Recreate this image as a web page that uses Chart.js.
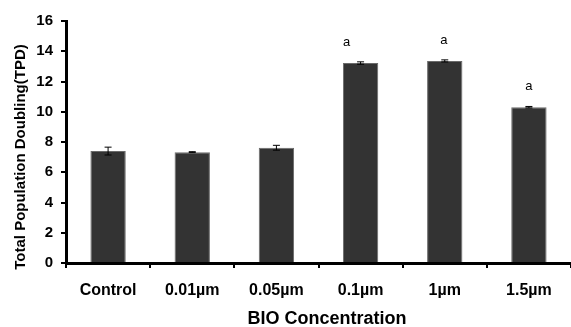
<!DOCTYPE html>
<html><head><meta charset="utf-8">
<script src="https://cdn.jsdelivr.net/npm/chart.js@4"></script>
<style>html,body{margin:0;padding:0;background:#fff}#w{width:571px;height:327px}</style>
</head><body><div id="w"><canvas id="c"></canvas></div>
<script>
const categories = ["Control", "0.01\u00b5m", "0.05\u00b5m", "0.1\u00b5m", "1\u00b5m", "1.5\u00b5m"];
const values = [7.4, 7.33, 7.62, 13.22, 13.36, 10.3];
const errors = [0.26, 0.03, 0.16, 0.08, 0.07, 0.05];
const sigLabels = ["", "", "", "a", "a", "a"];
const yTicks = [0, 2, 4, 6, 8, 10, 12, 14, 16];
const xTitle = "BIO Concentration";
const yTitle = "Total Population Doubling(TPD)";

const FONT = "'Liberation Sans', Arial, sans-serif";
const sigDx = [0, 0, 0, -14, -1, 0];

const extras = {
  id: 'extras',
  afterDatasetsDraw(chart) {
    const ctx = chart.ctx, x = chart.scales.x, y = chart.scales.y;
    ctx.save();
    ctx.strokeStyle = '#000'; ctx.lineWidth = 1;
    values.forEach((v, i) => {
      const cx = x.getPixelForValue(i);
      const y1 = y.getPixelForValue(v + errors[i]);
      const y2 = y.getPixelForValue(v - errors[i]);
      ctx.beginPath();
      ctx.moveTo(cx, y1); ctx.lineTo(cx, y2);
      ctx.moveTo(cx - 3.5, y1); ctx.lineTo(cx + 3.5, y1);
      ctx.moveTo(cx - 3.5, y2); ctx.lineTo(cx + 3.5, y2);
      ctx.stroke();
      if (sigLabels[i]) {
        ctx.fillStyle = '#000';
        ctx.font = "13px " + FONT;
        ctx.textAlign = 'center'; ctx.textBaseline = 'middle';
        ctx.fillText(sigLabels[i], cx + sigDx[i], y.getPixelForValue(v) - 21);
      }
    });
    ctx.fillStyle = '#000';
    ctx.font = "bold 18px " + FONT;
    ctx.textAlign = 'center'; ctx.textBaseline = 'middle';
    ctx.fillText(xTitle, 327, 319);
    ctx.translate(21, 157);
    ctx.rotate(-Math.PI / 2);
    ctx.font = "bold 15px " + FONT;
    ctx.fillText(yTitle, 0, 0);
    ctx.restore();
  }
};

new Chart(document.getElementById('c'), {
  type: 'bar',
  data: {
    labels: categories,
    datasets: [{
      data: values,
      backgroundColor: '#333333',
      borderColor: '#6a6a6a',
      borderWidth: 1,
      barPercentage: 0.84,
      categoryPercentage: 0.5
    }]
  },
  options: {
    responsive: true, maintainAspectRatio: false, animation: false,
    devicePixelRatio: 1,
    layout: { padding: { top: 21, right: 0, left: 0, bottom: 0 } },
    plugins: { legend: { display: false }, tooltip: { enabled: false } },
    scales: {
      x: {
        grid: { offset: true, drawOnChartArea: false, color: '#000', lineWidth: 2, tickLength: 5 },
        border: { color: '#000', width: 3 },
        ticks: { color: '#000', font: { family: FONT, size: 16, weight: 'bold' }, padding: 13, maxRotation: 0 },
        afterFit(s) { s.height = 64; }
      },
      y: {
        min: 0, max: 16,
        afterBuildTicks(s) { s.ticks = yTicks.map(v => ({ value: v })); },
        grid: { drawOnChartArea: false, color: '#000', lineWidth: 2, tickLength: 5 },
        border: { color: '#000', width: 3 },
        ticks: { color: '#000', font: { family: FONT, size: 15, weight: 'bold' }, padding: 8 },
        afterFit(s) { s.width = 66; }
      }
    }
  },
  plugins: [extras]
});
</script></body></html>
